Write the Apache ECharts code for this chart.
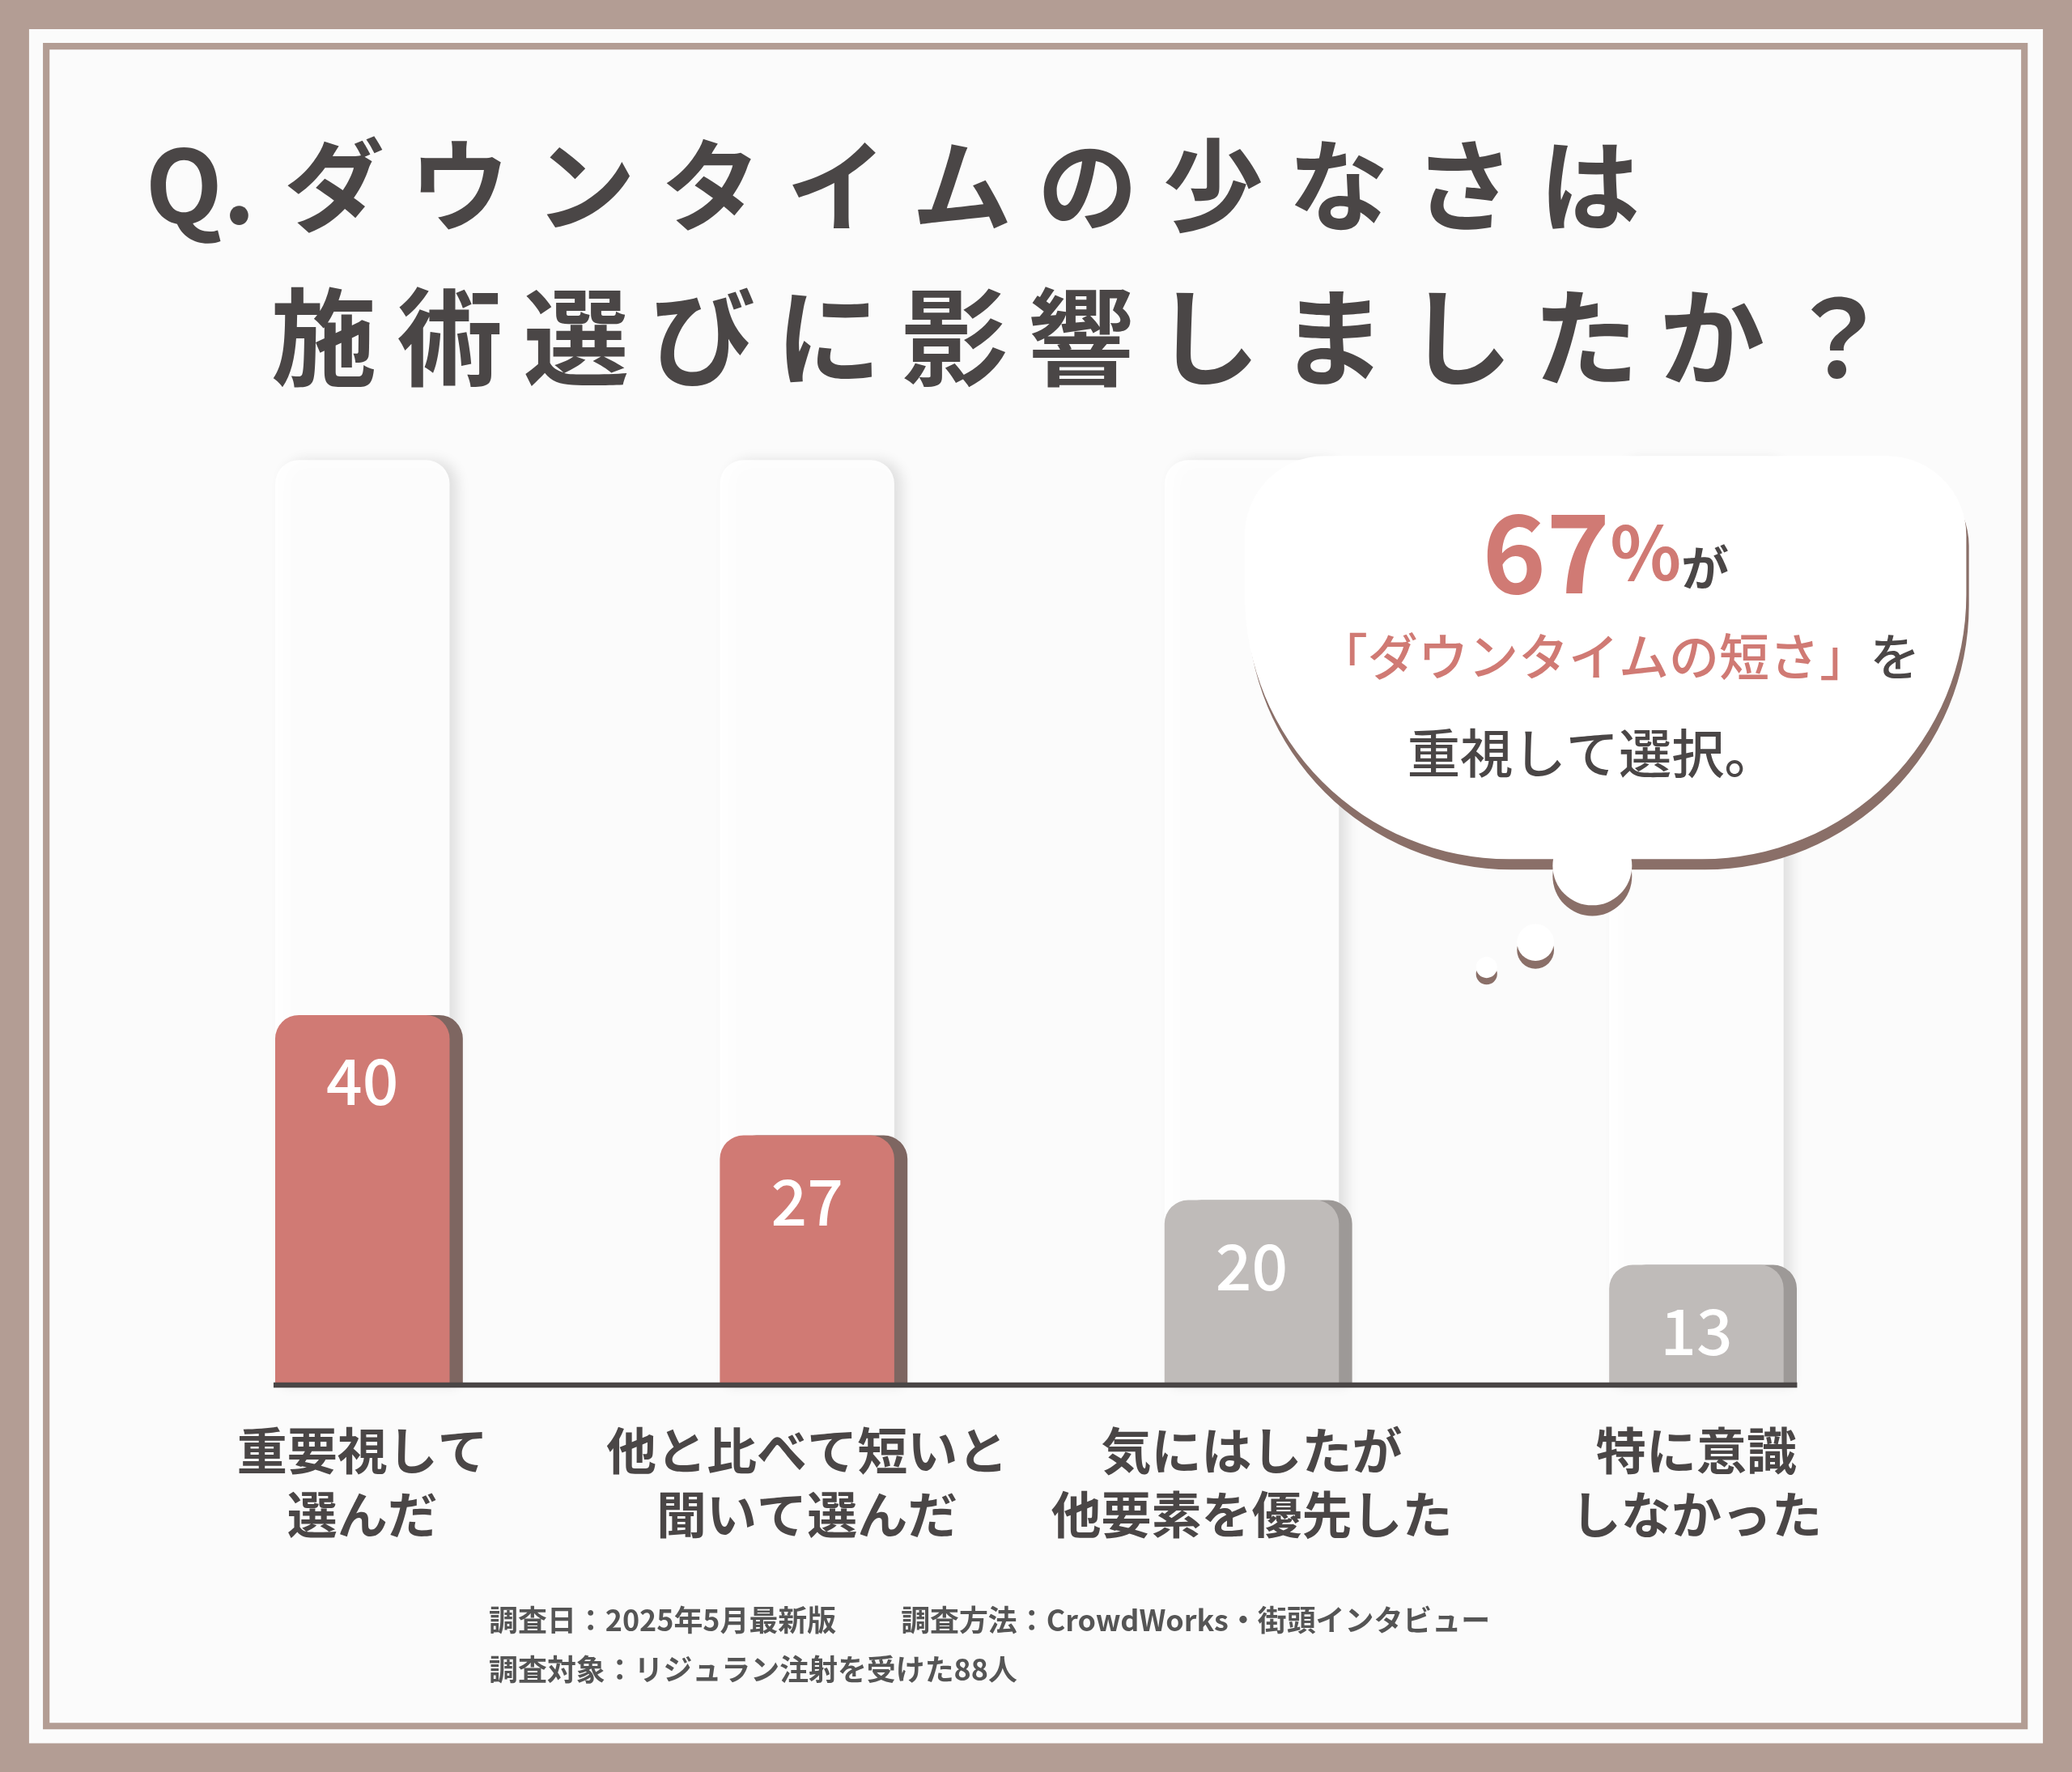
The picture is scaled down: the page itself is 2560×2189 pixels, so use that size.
<!DOCTYPE html>
<html><head><meta charset="utf-8">
<script src="https://cdn.jsdelivr.net/npm/echarts@6/dist/echarts.min.js"></script>
<style>html,body{margin:0;padding:0}#c{width:2560px;height:2189px}</style></head>
<body><div id="c"></div>
<script>
const categories = ['重要視して\n選んだ','他と比べて短いと\n聞いて選んだ','気にはしたが\n他要素を優先した','特に意識\nしなかった'];
const values = [40, 27, 20, 13];
const highlight = [true, true, false, false];
const yMax = 100;
const title1 = ['Q.','ダ','ウ','ン','タ','イ','ム','の','少','な','さ','は'];
const title2 = '施術選びに影響しましたか？';
const note1 = '調査日：2025年5月最新版　　 調査方法：CrowdWorks・街頭インタビュー';
const note2 = '調査対象：リジュラン注射を受けた88人';

const s = 2560/1568;
const S = v => v*s;
const F = 'Noto Sans CJK JP';
const dark = '#4a4646';
const red = '#d07a74';
const brown = '#b39d94';

const g = [];
g.push({type:'rect', z:-10, shape:{x:0,y:0,width:2560,height:2189}, style:{fill:brown}});
g.push({type:'rect', z:-9, shape:{x:S(22),y:S(22),width:S(1524),height:S(1297)}, style:{fill:'#fbfbfb'}});
g.push({type:'rect', z:-8, shape:{x:S(35),y:S(35),width:S(1497),height:S(1271)}, style:{fill:'none',stroke:brown,lineWidth:S(5)}});
title1.forEach((ch,i)=>g.push({type:'text', x:S(i===0?110:215+(i-1)*95), y:S(140), style:{text:ch, font:`bold ${S(76)}px "${F}"`, fill:dark, textVerticalAlign:'middle'}}));
[...title2].forEach((ch,i)=>g.push({type:'text', x:S(205+i*95.5), y:S(255), style:{text:ch, font:`bold ${S(80)}px "${F}"`, fill:dark, textVerticalAlign:'middle'}}));
g.push({type:'line', z:10, shape:{x1:S(207),y1:S(1048),x2:S(1360),y2:S(1048)}, style:{stroke:dark,lineWidth:S(4)}});
g.push({type:'rect', z:5, shape:{x:S(942),y:S(345),width:S(546),height:S(305),r:[S(60),S(60),S(200),S(200)]}, style:{fill:'#ffffff', shadowColor:'#8a6f68', shadowOffsetY:S(8), shadowOffsetX:S(2), shadowBlur:0}});
g.push({type:'circle', z:5, shape:{cx:S(1205),cy:S(655),r:S(30)}, style:{fill:'#ffffff', shadowColor:'#8a6f68', shadowOffsetY:S(8)}});
g.push({type:'circle', z:5, shape:{cx:S(1162),cy:S(713),r:S(14)}, style:{fill:'#ffffff', shadowColor:'#8a6f68', shadowOffsetY:S(6)}});
g.push({type:'circle', z:5, shape:{cx:S(1125),cy:S(732),r:S(8)}, style:{fill:'#ffffff', shadowColor:'#8a6f68', shadowOffsetY:S(5)}});
g.push({type:'text', z:6, x:S(1215), y:S(418), style:{text:'{a|67}{b|%}{c|が}', textAlign:'center', textVerticalAlign:'middle', rich:{
  a:{font:`bold ${S(82)}px "${F}"`, fill:red}, b:{font:`bold ${S(56)}px "${F}"`, fill:red}, c:{font:`bold ${S(36)}px "${F}"`, fill:dark, padding:[S(24),0,0,0]}}}});
g.push({type:'text', z:6, x:S(1225), y:S(497), style:{text:'{r|「ダウンタイムの短さ」}{d|を}', textAlign:'center', textVerticalAlign:'middle', rich:{
  r:{font:`500 ${S(38)}px "${F}"`, fill:red}, d:{font:`500 ${S(38)}px "${F}"`, fill:dark}}}});
g.push({type:'text', z:6, x:S(1205), y:S(570), style:{text:'重視して選択。', textAlign:'center', textVerticalAlign:'middle', font:`500 ${S(40)}px "${F}"`, fill:dark}});
g.push({type:'text', x:S(370), y:S(1226), style:{text:note1, textVerticalAlign:'middle', font:`bold ${S(22)}px "${F}"`, fill:'#555'}});
g.push({type:'text', x:S(370), y:S(1263), style:{text:note2, textVerticalAlign:'middle', font:`bold ${S(22)}px "${F}"`, fill:'#555'}});

const chart = echarts.init(document.getElementById('c'));
chart.setOption({
  animation:false,
  grid:{left:S(106), right:2560-S(1452), top:S(348), bottom:2189-S(1048)},
  xAxis:{type:'category', data:categories, axisLine:{show:false}, axisTick:{show:false},
    axisLabel:{interval:0, margin:S(26), color:dark, fontFamily:F, fontWeight:'bold', fontSize:S(38), lineHeight:S(48)}},
  yAxis:{type:'value', min:0, max:yMax, show:false, splitLine:{show:false}},
  series:[{
    type:'bar', data:values.map((v,i)=>({value:v, itemStyle:{
      color: highlight[i]?red:'#bfbbb9',
      shadowColor: highlight[i]?'#7e6661':'#9d9997', shadowOffsetX:S(10), shadowBlur:0}})),
    barWidth:S(132),
    itemStyle:{borderRadius:[S(18),S(18),0,0]},
    showBackground:true,
    backgroundStyle:{color:'rgba(255,255,255,0.9)', borderRadius:[S(18),S(18),0,0], shadowColor:'rgba(0,0,0,0.12)', shadowBlur:S(10), shadowOffsetX:S(6)},
    label:{show:true, position:'insideTop', distance:S(26), color:'#fff', fontFamily:F, fontWeight:500, fontSize:S(48)}
  }],
  graphic:g
});
</script></body></html>
